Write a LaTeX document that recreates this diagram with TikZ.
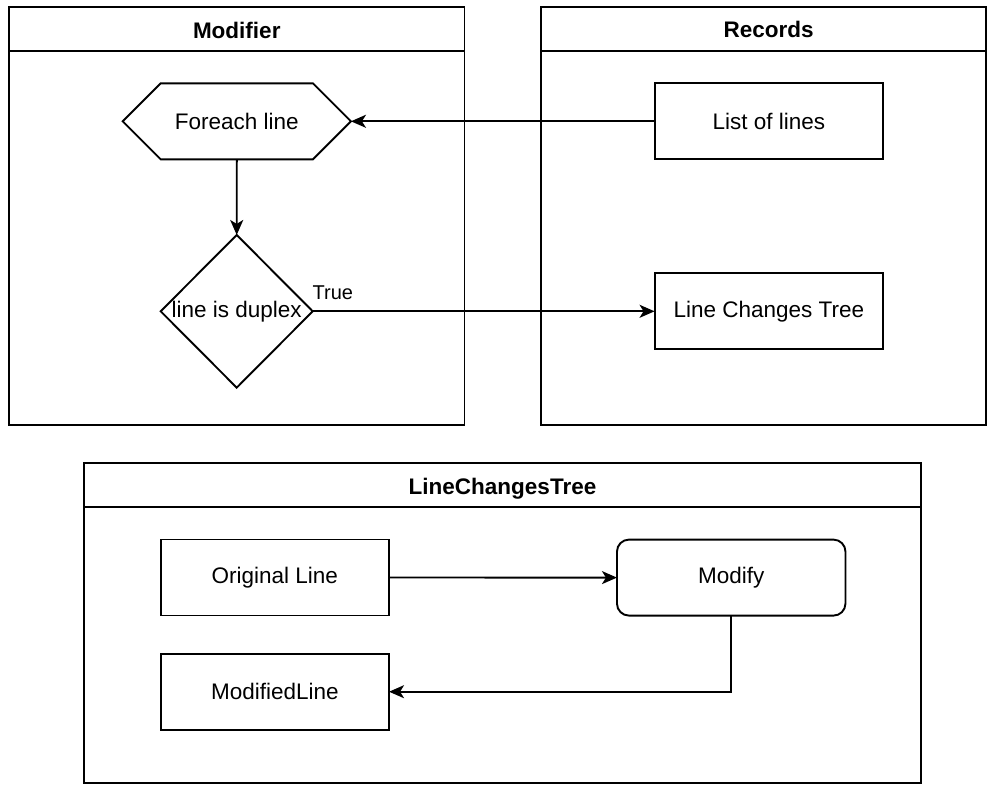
\documentclass[tikz,border=0pt]{standalone}
\usepackage{fontspec}
\setmainfont{Liberation Sans}
\usetikzlibrary{shapes.geometric,arrows.meta}

\begin{document}
\begin{tikzpicture}[x=1pt,y=-1pt,
  every node/.style={font=\fontsize{22.5}{27}\selectfont, outer sep=0pt, inner sep=0pt},
  lane/.style={draw, line width=1.9pt},
  lanetitle/.style={font=\fontsize{22.5}{27}\selectfont\bfseries, anchor=base},
  box/.style={draw, line width=1.9pt, minimum width=228.5pt, minimum height=76pt},
  flow/.style={line width=1.9pt, -{Stealth[length=15pt,width=13pt,inset=4pt]}},
]
\useasboundingbox (0,0) rectangle (987,784);
\clip (0,0) rectangle (987,784);

% swimlane: Modifier
\draw[lane] (9,7) rectangle (464.5,425);
\draw[lane] (9,51) -- (464.5,51);
\node[lanetitle] (modT) at (236.75,38.3) {Modifier};

% swimlane: Records
\draw[lane] (541,7) rectangle (986,425);
\draw[lane] (541,51) -- (986,51);
\node[lanetitle] (recT) at (768.7,37.8) {Records};

% swimlane: LineChangesTree
\draw[lane] (84,463.3) rectangle (921,783.2);
\draw[lane] (84,507.3) -- (921,507.3);
\node[lanetitle] (lctT) at (502.5,494) {LineChangesTree};

% loop hexagon
\node[minimum width=228.3pt, minimum height=76pt] (foreach) at (236.8,121.3) {Foreach line};
\draw[lane] (foreach.west) -- ([xshift=38pt]foreach.north west)
  -- ([xshift=-38pt]foreach.north east) -- (foreach.east)
  -- ([xshift=-38pt]foreach.south east) -- ([xshift=38pt]foreach.south west) -- cycle;

% decision
\node[diamond, draw, line width=1.9pt, minimum width=152pt, minimum height=152.7pt] (dup) at (236.7,311.3) {};
\node (dupT) at (dup.center) {line is duplex};

% records
\node[box] (list) at (768.8,121.3) {List of lines};
\node[box] (lct) at (768.8,311.3) {Line Changes Tree};

% tree contents
\node[box] (orig) at (274.8,577.5) {Original Line};
\node[box, rounded corners=12pt] (mod) at (731.2,577.6) {Modify};
\node[box] (modl) at (274.8,691.7) {ModifiedLine};

% connectors
\draw[flow] (list.west) -- (foreach.east);
\draw[flow] (foreach.south) -- (dup.north);
\draw[flow] (dup.east) -- (lct.west);
\node[anchor=base west, font=\fontsize{20}{24}\selectfont] (trueL) at ([yshift=12pt]dup.east) {True};
\draw[flow] (orig.east) -- (mod.west);
\draw[flow] (mod.south) |- (modl.east);
\end{tikzpicture}
\end{document}
